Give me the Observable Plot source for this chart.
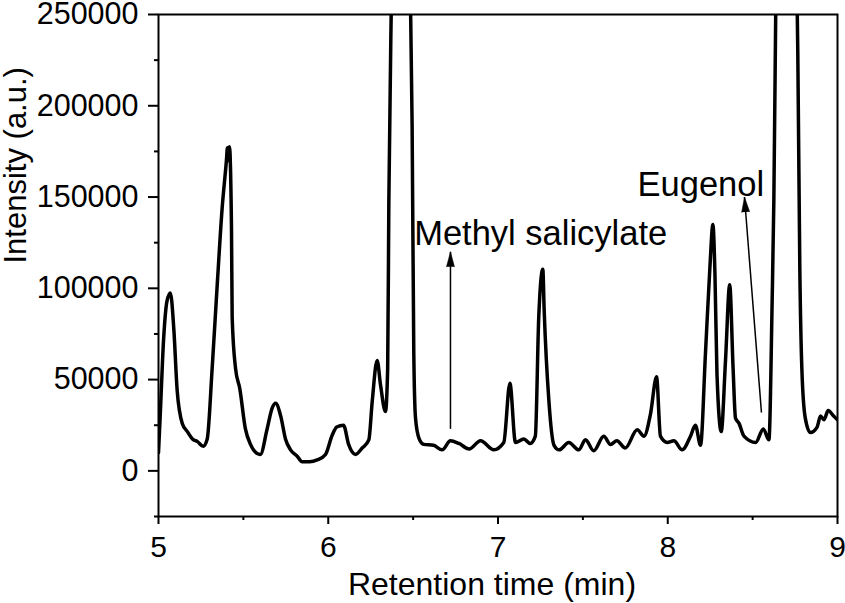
<!DOCTYPE html>
<html><head><meta charset="utf-8">
<script src="https://cdn.jsdelivr.net/npm/d3@7"></script>
<script src="https://cdn.jsdelivr.net/npm/@observablehq/plot@0.6"></script>
<style>
html,body{margin:0;padding:0;background:#fff}
svg{display:block;font-family:"Liberation Sans",Arial,sans-serif}
</style>
</head><body><div id="chart"></div>
<script>
// Retention time (min) and intensity (a.u.)
const retentionTime = [
  5.000, 5.010, 5.030, 5.050, 5.070, 5.090, 5.110, 5.140, 5.170, 5.200, 5.230, 5.263, 5.287,
  5.316, 5.346, 5.375, 5.400, 5.406, 5.412, 5.418, 5.430, 5.434, 5.454, 5.479, 5.512, 5.542,
  5.581, 5.600, 5.640, 5.670, 5.690, 5.720, 5.748, 5.778, 5.817, 5.846, 5.890, 5.935, 5.984,
  6.023, 6.050, 6.090, 6.120, 6.160, 6.200, 6.239, 6.259, 6.288, 6.308, 6.337, 6.350, 6.357,
  6.374, 6.430, 6.482, 6.494, 6.504, 6.514, 6.534, 6.563, 6.620, 6.671, 6.720, 6.770, 6.830,
  6.897, 6.975, 7.034, 7.070, 7.103, 7.152, 7.190, 7.220, 7.240, 7.264, 7.272, 7.300, 7.330,
  7.360, 7.417, 7.476, 7.515, 7.564, 7.623, 7.663, 7.700, 7.750, 7.820, 7.860, 7.898, 7.934,
  7.957, 7.997, 8.036, 8.085, 8.134, 8.163, 8.193, 8.222, 8.248, 8.266, 8.278, 8.290, 8.315,
  8.340, 8.365, 8.385, 8.399, 8.420, 8.449, 8.518, 8.563, 8.596, 8.615, 8.625, 8.638, 8.700,
  8.760, 8.766, 8.778, 8.790, 8.810, 8.840, 8.880, 8.900, 8.920, 8.945, 8.977, 9.000
];
const intensity = [
  10000, 30000, 72000, 93000, 97500, 78000, 44000, 26000, 21500, 17500, 16000, 13500, 17500,
  56000, 102000, 144000, 170000, 177000, 170000, 177500, 133000, 84000, 56000, 45000, 23000, 14500,
  9500, 9000, 23000, 34500, 37000, 30000, 17500, 11500, 8000, 5000, 5000, 6000, 9000,
  19500, 24000, 25000, 14500, 9000, 12500, 17000, 38000, 60500, 47000, 32500, 56000, 148000,
  270000, 600000, 270000, 190000, 64000, 29000, 18000, 14500, 14000, 11500, 16500, 15000, 12000,
  16500, 11500, 15500, 48000, 15500, 17500, 15000, 19000, 84000, 110500, 88000, 38000, 14000,
  11500, 15500, 11500, 17000, 11000, 19000, 14500, 16500, 12500, 22500, 19000, 31000, 51500,
  19000, 15500, 16500, 11500, 19000, 25000, 14000, 64000, 111000, 135000, 108000, 53000, 21500,
  60000, 102000, 56000, 29000, 26000, 19000, 15500, 23000, 17000, 93000, 148000, 270000, 600000,
  270000, 230000, 111000, 56000, 29000, 21000, 24000, 30000, 28000, 33000, 30000, 28000
];

const xTicks = [5, 6, 7, 8, 9];
const xMinorTicks = [5.5, 6.5, 7.5, 8.5];
const yTicks = [0, 50000, 100000, 150000, 200000, 250000];
const yMinorTicks = [-25000, 25000, 75000, 125000, 175000, 225000];

const xTitle = "Retention time (min)";
const yTitle = "Intensity (a.u.)";

// Annotations
const annotationLabels = ["Methyl salicylate", "Eugenol"];
const annotationX = [6.506, 7.822];
const annotationY = [130000, 156500];
const arrowTailX = [6.720, 8.552];
const arrowTailY = [23000, 32000];
const arrowTipX = [6.720, 8.452];
const arrowTipY = [120000, 150000];

const chromatogram = retentionTime.map((t, i) => ({t, v: intensity[i]}));
const labels = annotationLabels.map((text, i) => ({text, x: annotationX[i], y: annotationY[i]}));
const arrows = arrowTipX.map((x, i) => ({x1: arrowTailX[i], y1: arrowTailY[i], x2: x, y2: arrowTipY[i]}));

const W = 845, H = 603;
const mL = 158, mR = 8, mT = 14, mB = 87;
const xDomain = [5, 9], yDomain = [-25000, 250000];
// angle (clockwise from up) of each arrow in screen space
const kx = (W - mL - mR) / (xDomain[1] - xDomain[0]);
const ky = (H - mT - mB) / (yDomain[1] - yDomain[0]);
const arrowAngle = d => Math.atan2((d.x2 - d.x1) * kx, (d.y2 - d.y1) * ky) * 180 / Math.PI;

const chart = Plot.plot({
  width: W, height: H,
  marginLeft: mL, marginRight: mR, marginTop: mT, marginBottom: mB,
  style: {fontFamily: '"Liberation Sans", Arial, sans-serif', background: "#fff", color: "black", overflow: "visible"},
  x: {domain: xDomain},
  y: {domain: yDomain},
  marks: [
    Plot.line(chromatogram, {x: "t", y: "v", stroke: "black", strokeWidth: 3.5, curve: "monotone-x", clip: true, strokeLinejoin: "round"}),
    Plot.link(arrows, {x1: "x1", y1: "y1", x2: "x2", y2: "y2", stroke: "black", strokeWidth: 1.5}),
    Plot.vector(arrows, {x: "x2", y: "y2", rotate: arrowAngle, shape: "spike", anchor: "end", length: 15, r: 4, fill: "black", stroke: "black", strokeWidth: 0.5}),
    Plot.text(labels, {x: "x", y: "y", text: "text", textAnchor: "start", lineAnchor: "middle", fontSize: 34.5, fill: "black"}),
    Plot.frame({stroke: "black", strokeWidth: 2}),
    Plot.axisX(xTicks, {anchor: "bottom", tickSize: 8, tickPadding: 11, fontSize: 30, strokeWidth: 2, label: null, tickFormat: d => String(d)}),
    Plot.axisX(xMinorTicks, {anchor: "bottom", tickSize: 4, strokeWidth: 2, label: null, tickFormat: () => ""}),
    Plot.axisY(yTicks, {anchor: "left", tickSize: 10, tickPadding: 10, fontSize: 30.5, strokeWidth: 2, label: null, tickFormat: d => String(d)}),
    Plot.axisY(yMinorTicks, {anchor: "left", tickSize: 4, strokeWidth: 2, label: null, tickFormat: () => ""}),
    Plot.text([xTitle], {text: d => d, frameAnchor: "bottom", dy: 78, dx: -6, lineAnchor: "bottom", fontSize: 32, fill: "black"}),
    Plot.text([yTitle], {text: d => d, frameAnchor: "left", rotate: -90, dx: -155, dy: -2, lineAnchor: "top", fontSize: 31, fill: "black"})
  ]
});
document.getElementById("chart").appendChild(chart);
</script>
</body></html>
